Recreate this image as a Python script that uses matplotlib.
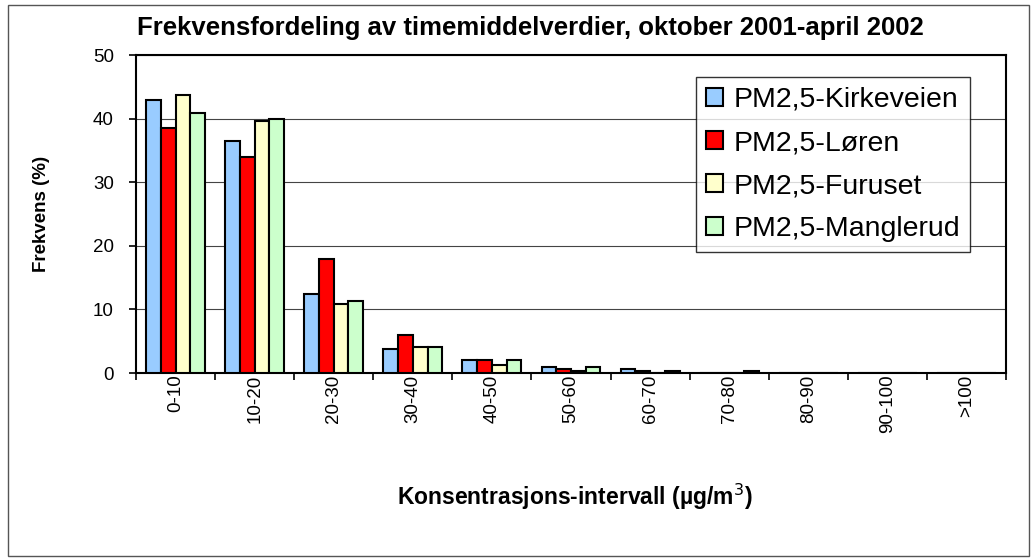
import numpy as np
import matplotlib
matplotlib.use("Agg")
import matplotlib.pyplot as plt
from matplotlib.patches import Rectangle

plt.rcParams['font.family'] = ['Liberation Sans', 'DejaVu Sans']

# data
intervals = ["0-10", "10-20", "20-30", "30-40", "40-50", "50-60",
             "60-70", "70-80", "80-90", "90-100", ">100"]
kirkeveien = [43.0, 36.4, 12.5, 3.7, 2.1, 0.9, 0.7, 0.0, 0.0, 0.0, 0.0]
loren = [38.6, 33.9, 17.9, 5.9, 2.1, 0.6, 0.35, 0.0, 0.0, 0.0, 0.0]
furuset = [43.7, 39.6, 10.9, 4.1, 1.2, 0.25, 0.0, 0.0, 0.0, 0.0, 0.0]
manglerud = [40.9, 39.9, 11.3, 4.1, 2.1, 0.9, 0.3, 0.3, 0.0, 0.0, 0.0]

series = [kirkeveien, loren, furuset, manglerud]
names = ["PM2,5-Kirkeveien", "PM2,5-Løren", "PM2,5-Furuset", "PM2,5-Manglerud"]
colors = ["#99CCFF", "#FF0000", "#FFFFCC", "#CCFFCC"]

W, H = 1031, 560
fig = plt.figure(figsize=(W / 100, H / 100), dpi=100)
ax = fig.add_axes([136 / W, 1 - 373 / H, 870 / W, 318 / H])

x = np.arange(len(intervals)) + 0.5
bw = 0.186
for i, (vals, name, col) in enumerate(zip(series, names, colors)):
    ax.bar(x + (i - 1.5) * bw, vals, width=bw, color=col, edgecolor="black",
           linewidth=1.5, label=name, zorder=3)

ax.set_xlim(0, len(intervals))
ax.set_ylim(0, 50)
ax.set_yticks(range(0, 51, 10))
ax.yaxis.grid(True, color="#444444", linewidth=0.8, zorder=0)

# ticks at the category boundaries, labels at the centres
ax.set_xticks(np.arange(len(intervals) + 1))
ax.set_xticklabels([])
ax.set_xticks(x, minor=True)
ax.set_xticklabels(intervals, minor=True, rotation=90, fontsize=13.5)
ax.tick_params(axis="x", which="minor", length=0, pad=1)
ax.tick_params(axis="x", which="major", length=5, width=1.2, direction="out")
ax.tick_params(axis="y", length=5, width=1.2, direction="out", labelsize=13.5, pad=11)

for s in ax.spines.values():
    s.set_linewidth(1.5)
    s.set_color("black")

leg = ax.legend(loc="upper right", bbox_to_anchor=((970 - 136) / 870, (373 - 77) / 318),
                borderaxespad=0, fontsize=20.5, frameon=True, fancybox=False,
                handlelength=0.6, handleheight=0.6, handletextpad=0.35,
                labelspacing=0.6, borderpad=0.35)
leg.get_frame().set_edgecolor("black")
leg.get_frame().set_linewidth(1.0)

fig.text(530 / W, 1 - 28 / H, "Frekvensfordeling av timemiddelverdier, oktober 2001-april 2002",
         ha="center", va="center", fontsize=18.5, fontweight="bold")
fig.text(42 / W, 1 - 214 / H, "Frekvens (%)", rotation=90, ha="center", va="center",
         fontsize=13.5, fontweight="bold")
fig.text(575 / W, 1 - 497 / H, "Konsentrasjons-intervall (µg/m$^3$)", ha="center", va="center",
         fontsize=16.5, fontweight="bold")

# outer chart frame
fig.patches.append(Rectangle((8 / W, 4 / H), 1021 / W, 551 / H, transform=fig.transFigure,
                             fill=False, edgecolor="#555555", linewidth=1.0))

fig.savefig("out.png", dpi=100)
